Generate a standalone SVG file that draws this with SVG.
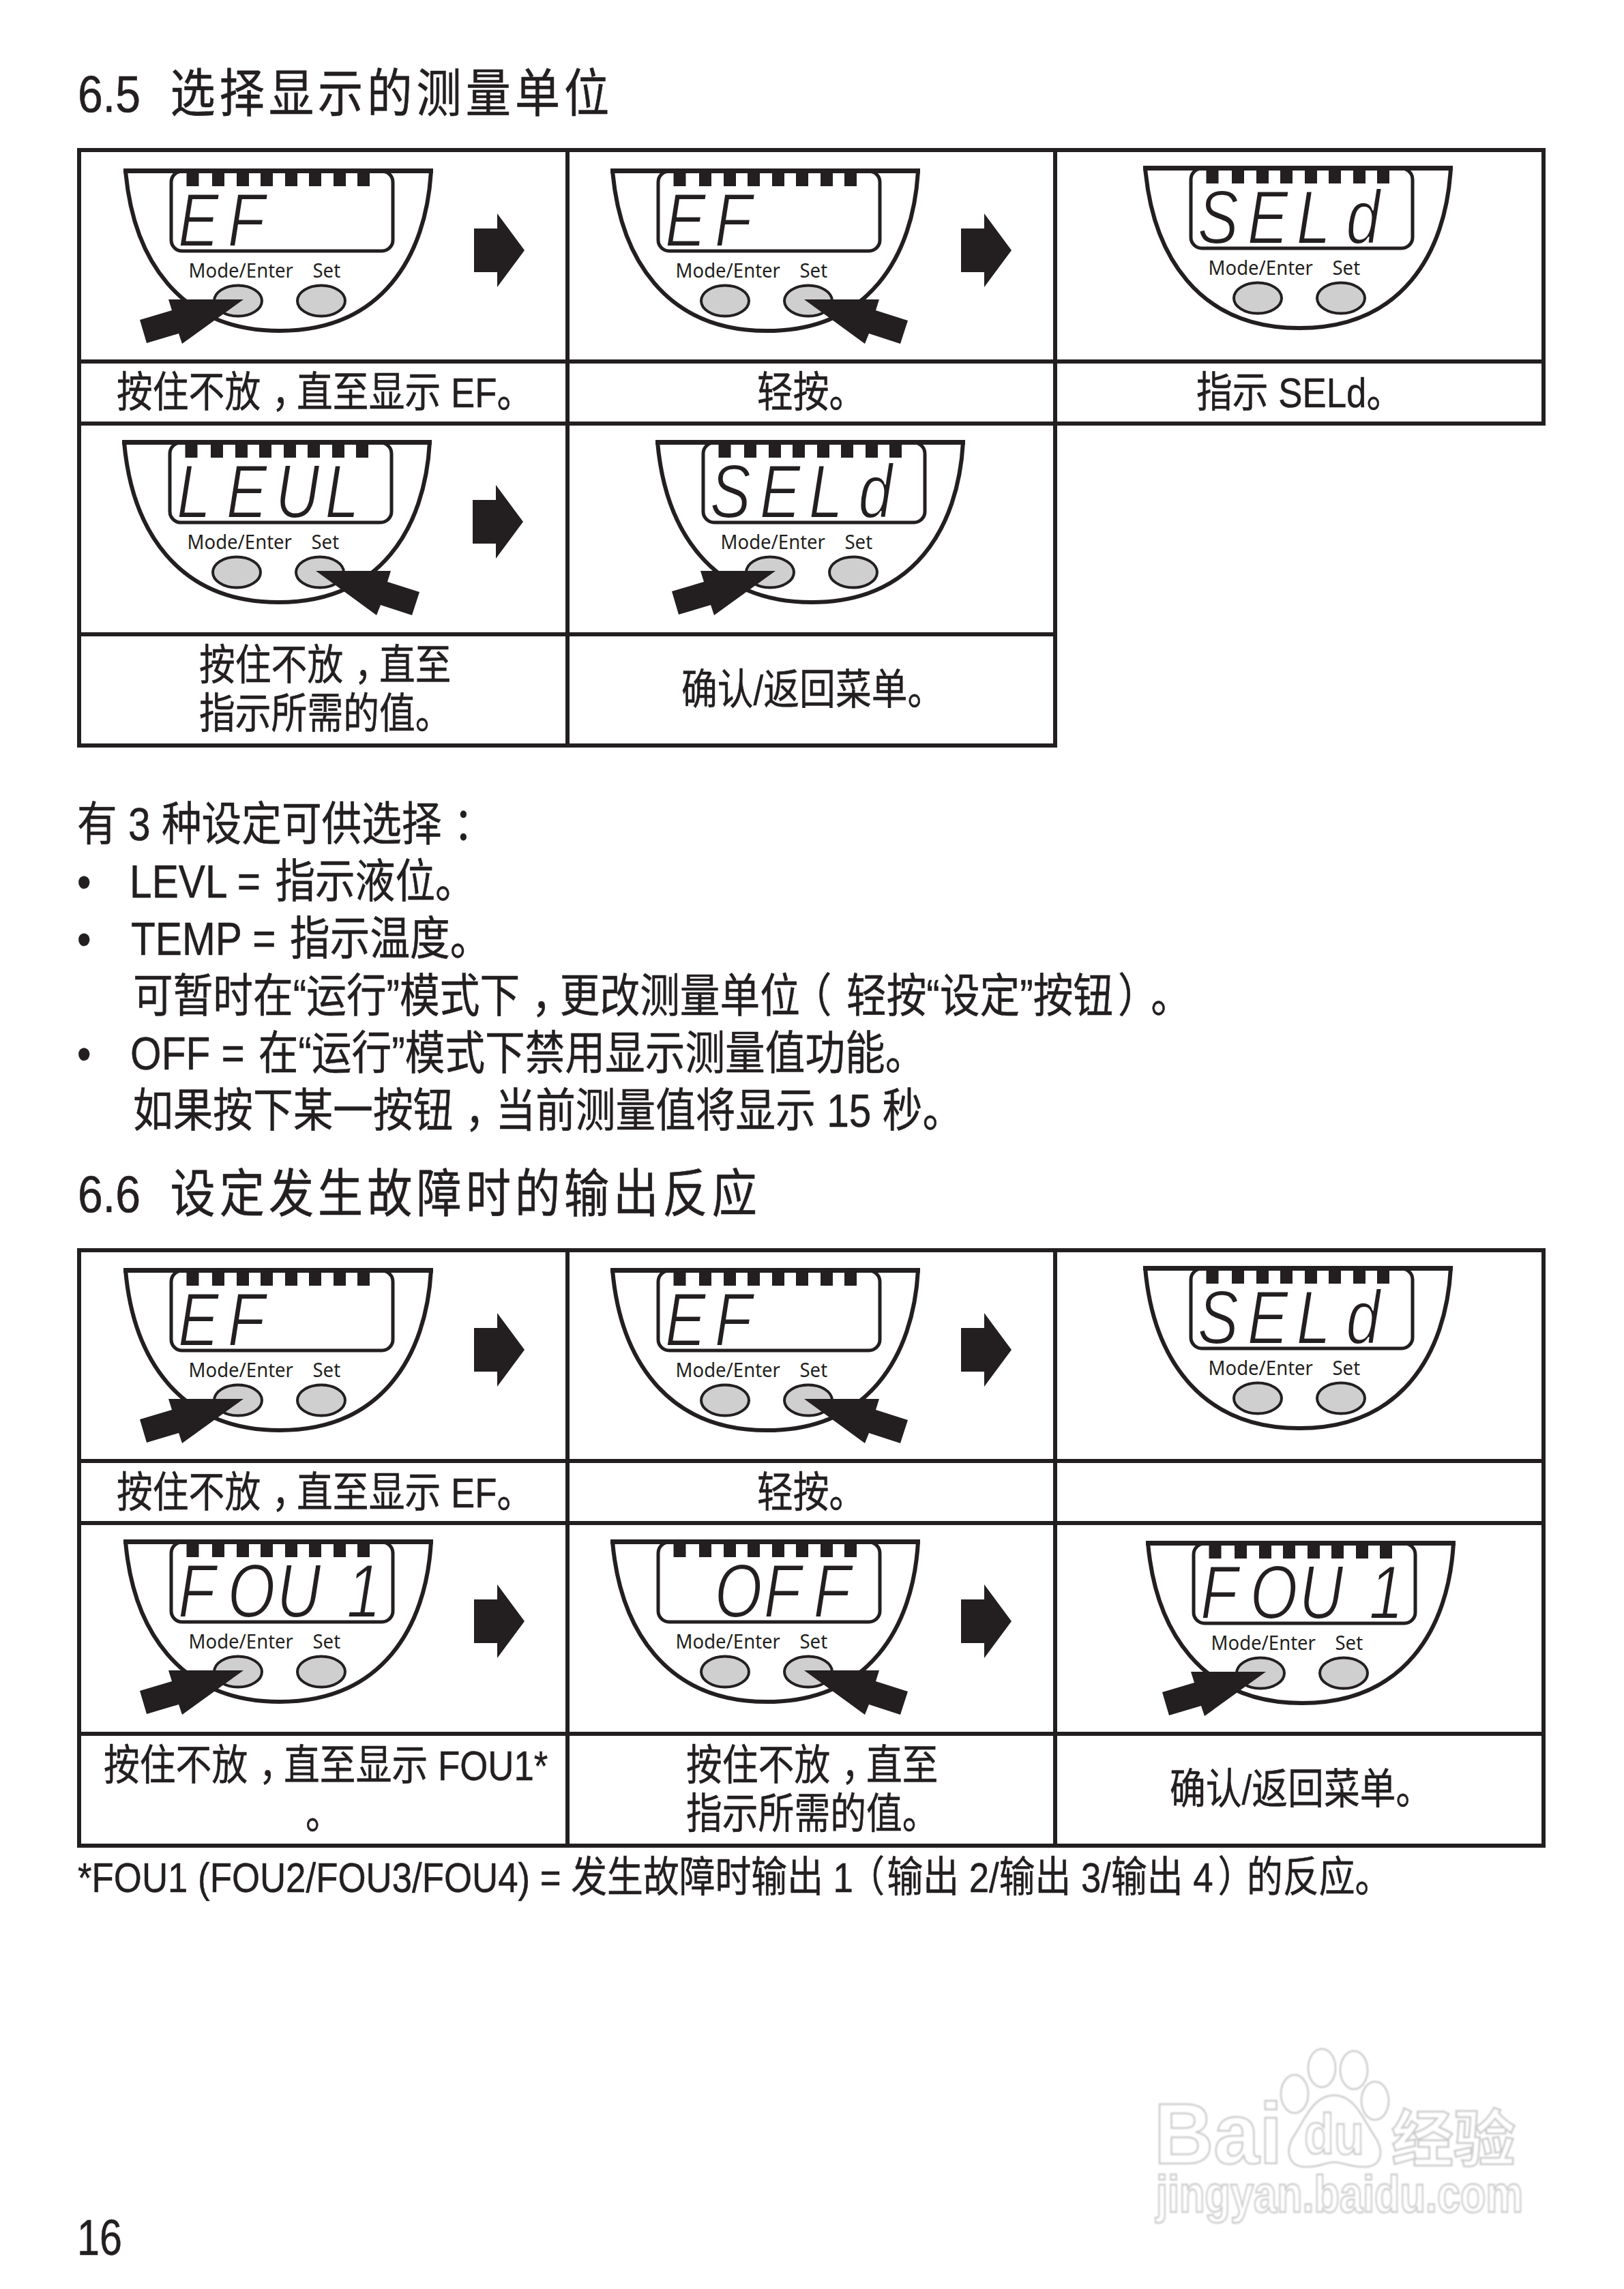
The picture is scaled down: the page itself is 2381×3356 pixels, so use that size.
<svg xmlns="http://www.w3.org/2000/svg" xmlns:xlink="http://www.w3.org/1999/xlink" width="2381" height="3356" viewBox="0 0 2381 3356">
<style>
text{font-family:"Liberation Sans","Noto Sans CJK SC",sans-serif;fill:#231f20}
.h{font-size:76px;stroke:#231f20;stroke-width:.6}
.b{font-size:68px;stroke:#231f20;stroke-width:.5}
.l{font-size:62px;stroke:#231f20;stroke-width:.5}
.m{font-family:"Noto Sans",sans-serif;font-size:29px}
.lcd{font-size:112px;font-style:italic;stroke:#fff;stroke-width:2}
.grid{fill:none;stroke:#231f20;stroke-width:6}
.ink{fill:#231f20}
.wm text{fill:#fff;stroke:#c8c8c8;stroke-width:2.5;font-weight:bold}
.wm .wf{font-family:"Noto Sans CJK SC",sans-serif}
.wm ellipse,.wm path{fill:#fff;stroke:#c8c8c8;stroke-width:2.5}
</style>
<defs>
<filter id="soft" x="-5%" y="-5%" width="110%" height="110%"><feGaussianBlur stdDeviation="1"/></filter>
<g id="body">
<path d="M3 3C14 130 80 238 229 238C378 238 444 130 451 3" fill="#fff" stroke="#231f20" stroke-width="6"/>
<rect x="70" y="4" width="325" height="117" rx="16" fill="#fff" stroke="#231f20" stroke-width="5"/>
<rect class="ink" x="0" y="0" width="454" height="7"/>
<path class="ink" d="M92.5 6h18v20h-18zM130 6h18v20h-18zM166 6h18v20h-18zM201 6h18v20h-18zM237 6h18v20h-18zM272 6h18v20h-18zM308 6h18v20h-18zM343 6h18v20h-18z"/>
<ellipse cx="168" cy="194" rx="35" ry="22.5" fill="#cfcfcf" stroke="#231f20" stroke-width="4"/>
<ellipse cx="290" cy="194" rx="35" ry="22.5" fill="#cfcfcf" stroke="#231f20" stroke-width="4"/>
</g>
<polygon id="hl" class="ink" points="176,192 66,192 71,208 24,222 34,256 81,242 86,257"/>
<polygon id="hr" class="ink" points="284,192 394,192 389,208 436,223 425,257 379,242 373,257"/>
<polygon id="ba" class="ink" points="514,88 548,88 548,66 588,120 548,174 548,152 514,152"/>
</defs>
<rect width="2381" height="3356" fill="#fff"/>

<g id="watermark" class="wm" filter="url(#soft)">
<path d="M1956 3072C1925 3072 1912 3110 1898 3130C1885 3148 1885 3177 1915 3177C1935 3177 1945 3170 1956 3170C1967 3170 1980 3177 2000 3177C2030 3177 2028 3148 2014 3130C2000 3110 1987 3072 1956 3072Z"/>
<ellipse cx="1898" cy="3070" rx="20" ry="28"/>
<ellipse cx="1938" cy="3032" rx="20" ry="28"/>
<ellipse cx="1985" cy="3035" rx="20" ry="28"/>
<ellipse cx="2016" cy="3080" rx="20" ry="28"/>
<text x="1692" y="3172" font-size="126" textLength="188" lengthAdjust="spacingAndGlyphs">Bai</text>
<text x="1912" y="3158" font-size="84" textLength="88" lengthAdjust="spacingAndGlyphs">du</text>
<text class="wf" x="2040" y="3168" font-size="90" textLength="182" lengthAdjust="spacingAndGlyphs">经验</text>
<text x="1695" y="3243" font-size="76" textLength="538" lengthAdjust="spacingAndGlyphs">jingyan.baidu.com</text>
</g>

<g id="table-1-grid" class="grid">
<path d="M116 220H2263V621H116M116 530H2263M116 930H1547M116 1093H1547M116 217V1096M832 220V1093M1547 220V1096"/>
</g>
<g id="table-2-grid" class="grid">
<path d="M116 1833H2263V2706H116ZM116 2142H2263M116 2233H2263M116 2542H2263M832 1833V2706M1547 1833V2706"/>
</g>

<g id="connectors">
<use href="#ba" x="181" y="247"/>
<use href="#ba" x="895" y="247"/>
<use href="#ba" x="179" y="645"/>
<use href="#ba" x="181" y="1859"/>
<use href="#ba" x="895" y="1859"/>
<use href="#ba" x="181" y="2257"/>
<use href="#ba" x="895" y="2257"/>
</g>

<g id="t1-dev-1" transform="translate(181,247)"><use href="#body"/><text class="m" transform="translate(95.5,160) scale(.95,1)">Mode/Enter</text><text class="m" transform="translate(277.5,160) scale(.95,1)">Set</text><text class="lcd" transform="scale(.8,1)" x="100 191" y="114">EF</text><use href="#hl"/></g>
<g id="t1-dev-2" transform="translate(895,247)"><use href="#body"/><text class="m" transform="translate(95.5,160) scale(.95,1)">Mode/Enter</text><text class="m" transform="translate(277.5,160) scale(.95,1)">Set</text><text class="lcd" transform="scale(.8,1)" x="100 191" y="114">EF</text><use href="#hr"/></g>
<g id="t1-dev-3" transform="translate(1676,243)"><use href="#body"/><text class="m" transform="translate(95.5,160) scale(.95,1)">Mode/Enter</text><text class="m" transform="translate(277.5,160) scale(.95,1)">Set</text><text class="lcd" transform="scale(.8,1)" x="100 191 281 372" y="114">SELd</text></g>
<g id="t1-dev-4" transform="translate(179,645)"><use href="#body"/><text class="m" transform="translate(95.5,160) scale(.95,1)">Mode/Enter</text><text class="m" transform="translate(277.5,160) scale(.95,1)">Set</text><text class="lcd" transform="scale(.8,1)" x="100 191 281 372" y="114">LEUL</text><use href="#hr"/></g>
<g id="t1-dev-5" transform="translate(961,645)"><use href="#body"/><text class="m" transform="translate(95.5,160) scale(.95,1)">Mode/Enter</text><text class="m" transform="translate(277.5,160) scale(.95,1)">Set</text><text class="lcd" transform="scale(.8,1)" x="100 191 281 372" y="114">SELd</text><use href="#hl"/></g>

<g id="t2-dev-1" transform="translate(181,1859)"><use href="#body"/><text class="m" transform="translate(95.5,160) scale(.95,1)">Mode/Enter</text><text class="m" transform="translate(277.5,160) scale(.95,1)">Set</text><text class="lcd" transform="scale(.8,1)" x="100 191" y="114">EF</text><use href="#hl"/></g>
<g id="t2-dev-2" transform="translate(895,1859)"><use href="#body"/><text class="m" transform="translate(95.5,160) scale(.95,1)">Mode/Enter</text><text class="m" transform="translate(277.5,160) scale(.95,1)">Set</text><text class="lcd" transform="scale(.8,1)" x="100 191" y="114">EF</text><use href="#hr"/></g>
<g id="t2-dev-3" transform="translate(1676,1856)"><use href="#body"/><text class="m" transform="translate(95.5,160) scale(.95,1)">Mode/Enter</text><text class="m" transform="translate(277.5,160) scale(.95,1)">Set</text><text class="lcd" transform="scale(.8,1)" x="100 191 281 372" y="114">SELd</text></g>
<g id="t2-dev-4" transform="translate(181,2257)"><use href="#body"/><text class="m" transform="translate(95.5,160) scale(.95,1)">Mode/Enter</text><text class="m" transform="translate(277.5,160) scale(.95,1)">Set</text><text class="lcd" transform="scale(.8,1)" x="100 191 281 409" y="114">FOU1</text><use href="#hl"/></g>
<g id="t2-dev-5" transform="translate(895,2257)"><use href="#body"/><text class="m" transform="translate(95.5,160) scale(.95,1)">Mode/Enter</text><text class="m" transform="translate(277.5,160) scale(.95,1)">Set</text><text class="lcd" transform="scale(.8,1)" x="191 281 372" y="114">OFF</text><use href="#hr"/></g>
<g id="t2-dev-6" transform="translate(1680,2259)"><use href="#body"/><text class="m" transform="translate(95.5,160) scale(.95,1)">Mode/Enter</text><text class="m" transform="translate(277.5,160) scale(.95,1)">Set</text><text class="lcd" transform="scale(.8,1)" x="100 191 281 409" y="114">FOU1</text><use href="#hl"/></g>

<g id="headings">
<text class="h" transform="translate(114,164) scale(.87,1)">6.5 <tspan dx="29" letter-spacing="7">选择显示的测量单位</tspan></text>
<text class="h" transform="translate(114,1777) scale(.87,1)">6.6 <tspan dx="29" letter-spacing="7">设定发生故障时的输出反应</tspan></text>
</g>

<g id="table-1-labels">
<text class="l" transform="translate(171,597) scale(.852,1)">按住不放<tspan dx="19" letter-spacing="-19">，</tspan>直至显示 EF。</text>
<text class="l" transform="translate(1110,597) scale(.852,1)">轻按。</text>
<text class="l" transform="translate(1754,597) scale(.852,1)">指示 SELd。</text>
<text class="l" transform="translate(292,997) scale(.852,1)">按住不放<tspan dx="19" letter-spacing="-19">，</tspan>直至</text>
<text class="l" transform="translate(292,1068) scale(.852,1)">指示所需的值。</text>
<text class="l" transform="translate(999,1033) scale(.852,1)">确认/返回菜单。</text>
</g>

<g id="body-text">
<text class="b" transform="translate(113,1232) scale(.863,1)">有 3 种设定可供选择<tspan dx="20">：</tspan></text>
<text class="b" transform="translate(113,1316) scale(.863,1)">•</text>
<text class="b" transform="translate(190,1316) scale(.863,1)">LEVL = <tspan dx="6">指示液位。</tspan></text>
<text class="b" transform="translate(113,1400) scale(.863,1)">•</text>
<text class="b" transform="translate(192,1400) scale(.863,1)">TEMP = <tspan dx="5">指示温度。</tspan></text>
<text class="b" transform="translate(195,1484) scale(.863,1)">可暂时在“运行”模式下<tspan dx="20" letter-spacing="-20">，</tspan>更改测量单<tspan letter-spacing="-14">位</tspan>（<tspan dx="25">轻按“设定”按钮</tspan><tspan dx="8">）</tspan><tspan dx="22">。</tspan></text>
<text class="b" transform="translate(113,1568) scale(.863,1)">•</text>
<text class="b" transform="translate(191,1568) scale(.863,1)">OFF = <tspan dx="4">在“运行”模式下禁用显示测量值功能。</tspan></text>
<text class="b" transform="translate(195,1652) scale(.863,1)">如果按下某一按钮<tspan dx="20" letter-spacing="-16">，</tspan>当前测量值将显示 15 秒。</text>
</g>

<g id="table-2-labels">
<text class="l" transform="translate(171,2210) scale(.852,1)">按住不放<tspan dx="19" letter-spacing="-19">，</tspan>直至显示 EF。</text>
<text class="l" transform="translate(1110,2210) scale(.852,1)">轻按。</text>
<text class="l" transform="translate(152,2610) scale(.852,1)">按住不放<tspan dx="19" letter-spacing="-19">，</tspan>直至显示 FOU1*</text>
<text class="l" transform="translate(448,2681) scale(.852,1)">。</text>
<text class="l" transform="translate(1006,2610) scale(.852,1)">按住不放<tspan dx="19" letter-spacing="-19">，</tspan>直至</text>
<text class="l" transform="translate(1006,2681) scale(.852,1)">指示所需的值。</text>
<text class="l" transform="translate(1715,2645) scale(.852,1)">确认/返回菜单。</text>
</g>

<text id="footnote" class="l" transform="translate(114,2774) scale(.852,1)">*FOU1 (FOU2/FOU3/FOU4) = 发生故障时输出 <tspan letter-spacing="-8">1</tspan>（<tspan dx="4">输出 2/输出 3/输出 4</tspan><tspan dx="8" letter-spacing="-12">）</tspan>的反应。</text>
<text id="page-number" class="b" transform="translate(113,3306) scale(.8,1)" style="font-size:74px">16</text>
</svg>
